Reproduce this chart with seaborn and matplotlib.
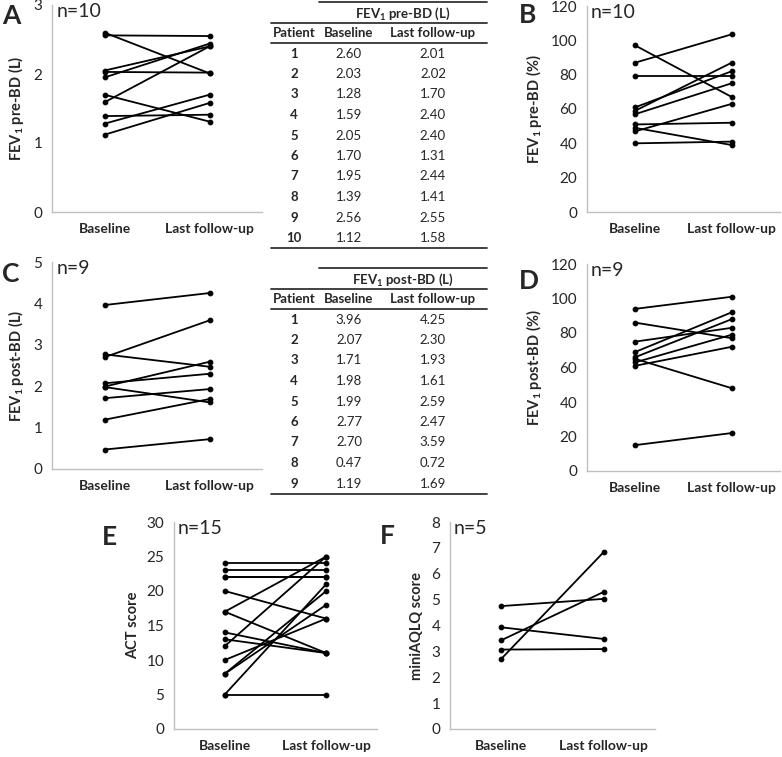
import numpy as np
import pandas as pd
import matplotlib
matplotlib.use("Agg")
import matplotlib.pyplot as plt
import seaborn as sns

# ---- data ----
timepoints = ["Baseline", "Last follow-up"]

pre_bd_l_base = [2.60, 2.03, 1.28, 1.59, 2.05, 1.70, 1.95, 1.39, 2.56, 1.12]
pre_bd_l_last = [2.01, 2.02, 1.70, 2.40, 2.40, 1.31, 2.44, 1.41, 2.55, 1.58]

pre_bd_pct_base = [97, 87, 79, 61, 59, 57, 51, 49, 47, 40]
pre_bd_pct_last = [67, 103.5, 79, 82, 87, 75, 52, 39, 63, 41]

post_bd_l_base = [3.96, 2.07, 1.71, 1.98, 1.99, 2.77, 2.70, 0.47, 1.19]
post_bd_l_last = [4.25, 2.30, 1.93, 1.61, 2.59, 2.47, 3.59, 0.72, 1.69]

post_bd_pct_base = [94, 86, 75, 69, 66, 65, 63, 61, 15]
post_bd_pct_last = [101, 77, 83, 92, 88, 48, 79, 72, 22]

act_base = [24, 23, 22, 22, 20, 17, 17, 14, 13, 12, 10, 8, 8, 5, 5]
act_last = [24, 23, 22, 22, 16, 25, 11, 11, 11, 25, 16, 20, 18, 21, 5]

aqlq_base = [4.75, 3.93, 3.43, 3.07, 2.71]
aqlq_last = [5.03, 3.48, 5.30, 3.09, 6.84]

sns.set_style("white")
plt.rcParams["font.family"] = ["Lato", "DejaVu Sans"]
plt.rcParams["mathtext.fontset"] = "custom"
plt.rcParams["mathtext.rm"] = "Lato"
plt.rcParams["mathtext.bf"] = "Lato:bold"

W, H = 782, 757
fig = plt.figure(figsize=(W / 100, H / 100), dpi=100)
GREY = "#bfbfbf"


def box(left, top, right, bottom):
    return [left / W, 1 - bottom / H, (right - left) / W, (bottom - top) / H]


def long_df(base, last):
    n = len(base)
    return pd.DataFrame({
        "patient": list(range(n)) * 2,
        "time": [timepoints[0]] * n + [timepoints[1]] * n,
        "value": list(base) + list(last),
    })


def paired_panel(rect, base, last, ymax, ystep, ylabel, letter, letter_xy):
    ax = fig.add_axes(rect)
    df = long_df(base, last)
    sns.lineplot(data=df, x="time", y="value", units="patient", estimator=None,
                 color="black", lw=1.3, marker="o", markersize=3.4,
                 markeredgecolor="black", ax=ax, legend=False)
    ax.set_ylim(0, ymax)
    ax.set_yticks(np.arange(0, ymax + ystep / 2, ystep))
    ax.set_xlim(-0.5, 1.5)
    ax.set_xticks([-0.5, 0.5, 1.5])
    ax.set_xticklabels([])
    ax.set_xticks([0, 1], minor=True)
    ax.set_xticklabels(timepoints, minor=True, fontweight="bold", fontsize=10)
    ax.tick_params(axis="x", which="minor", length=0, pad=8)
    ax.tick_params(axis="x", which="major", length=4, color=GREY, width=1)
    ax.tick_params(axis="y", length=4, color=GREY, width=1, labelsize=11, pad=3)
    for s in ["top", "right"]:
        ax.spines[s].set_visible(False)
    for s in ["left", "bottom"]:
        ax.spines[s].set_color(GREY)
        ax.spines[s].set_linewidth(1)
    ax.set_xlabel("")
    ax.set_ylabel(ylabel, fontweight="bold", fontsize=10.5, labelpad=5)
    ax.text(0.02, 1.01, f"n={len(base)}", transform=ax.transAxes,
            fontsize=14, va="top", ha="left")
    fig.text(letter_xy[0] / W, 1 - letter_xy[1] / H, letter, fontsize=19,
             fontweight="bold", ha="left", va="center")
    return ax


paired_panel(box(52, 5, 262, 212), pre_bd_l_base, pre_bd_l_last, 3, 1,
             r"FEV$_\mathbf{1}$ pre-BD (L)", "A", (2, 16))
paired_panel(box(587, 6, 780, 212), pre_bd_pct_base, pre_bd_pct_last, 120, 20,
             r"FEV$_\mathbf{1}$ pre-BD (%)", "B", (519, 15))
paired_panel(box(52, 262, 262, 469), post_bd_l_base, post_bd_l_last, 5, 1,
             r"FEV$_\mathbf{1}$ post-BD (L)", "C", (2, 274))
paired_panel(box(587, 264, 780, 471), post_bd_pct_base, post_bd_pct_last, 120, 20,
             r"FEV$_\mathbf{1}$ post-BD (%)", "D", (519, 281))
paired_panel(box(174, 522, 377, 729), act_base, act_last, 30, 5,
             "ACT score", "E", (102, 537))
paired_panel(box(450, 522, 655, 729), aqlq_base, aqlq_last, 8, 1,
             "miniAQLQ score", "F", (380, 536))

# ---- tables (pixel coordinate overlay) ----
ov = fig.add_axes([0, 0, 1, 1], zorder=-1)
ov.set_xlim(0, W)
ov.set_ylim(H, 0)
ov.axis("off")


def draw_table(top, title, base, last):
    x_pat, x_base, x_last = 294, 349, 433
    line_kw = dict(color="#333333", lw=1.3)
    fs = 9.5
    ov.plot([319, 487], [top, top], **line_kw)
    ov.text(403, top + 12, title, ha="center", va="center",
            fontsize=fs, fontweight="bold")
    ov.plot([271, 487], [top + 21, top + 21], **line_kw)
    hy = top + 31
    for x, lab in zip([x_pat, x_base, x_last], ["Patient"] + timepoints):
        ov.text(x, hy, lab, ha="center", va="center", fontsize=fs, fontweight="bold")
    ov.plot([271, 487], [top + 41, top + 41], **line_kw)
    y0 = top + 51.5
    step = 20.5
    for i, (b, l) in enumerate(zip(base, last)):
        y = y0 + i * step
        ov.text(x_pat, y, str(i + 1), ha="center", va="center",
                fontsize=fs, fontweight="bold")
        ov.text(x_base, y, f"{b:.2f}", ha="center", va="center", fontsize=fs)
        ov.text(x_last, y, f"{l:.2f}", ha="center", va="center", fontsize=fs)
    yb = y0 + (len(base) - 1) * step + 10
    ov.plot([271, 487], [yb, yb], **line_kw)


draw_table(2, r"FEV$_\mathbf{1}$ pre-BD (L)", pre_bd_l_base, pre_bd_l_last)
draw_table(268, r"FEV$_\mathbf{1}$ post-BD (L)", post_bd_l_base, post_bd_l_last)

fig.savefig("out.png", dpi=100)
